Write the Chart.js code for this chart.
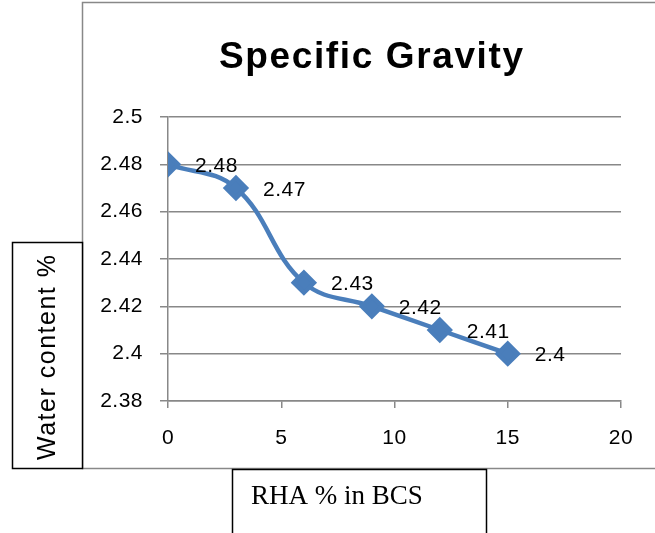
<!DOCTYPE html>
<html>
<head>
<meta charset="utf-8">
<script src="https://cdn.jsdelivr.net/npm/chart.js@4.4.1/dist/chart.umd.min.js"></script>
<style>
  html, body { margin: 0; padding: 0; background: #fff; }
  #wrap { position: relative; width: 655px; height: 533px; }
</style>
</head>
<body>
<div id="wrap"><canvas id="c" width="655" height="533"></canvas></div>
<script>
// data
const rhaPct = [0, 3, 6, 9, 12, 15];
const specGravity = [2.48, 2.47, 2.43, 2.42, 2.41, 2.4];
const chartTitle = 'Specific Gravity';
const yTitle = 'Water content %';
const xTitle = 'RHA % in BCS';

const LINE = '#4a7ebb';
const GRID = '#888888';
const SANS = '"Liberation Sans", Arial, sans-serif';
Chart.defaults.font.family = SANS;

// draw text stretched to a given width (excel-ish spacing)
function spacedText(ctx, txt, x, y, width) {
  ctx.letterSpacing = '0px';
  const w = ctx.measureText(txt).width;
  const sp = Math.max(0, (width - w) / (txt.length - 1));
  ctx.letterSpacing = sp + 'px';
  ctx.fillText(txt, x, y);
  ctx.letterSpacing = '0px';
}

const decor = {
  id: 'decor',
  beforeDraw(chart) {
    const ctx = chart.ctx;
    ctx.save();
    ctx.fillStyle = '#fff';
    ctx.fillRect(0, 0, chart.width, chart.height);
    ctx.strokeStyle = GRID;
    ctx.lineWidth = 1.5;
    ctx.strokeRect(82.5, 2.5, 600, 466);
    ctx.restore();
    ctx.letterSpacing = '0.5px';
  },
  afterDatasetsDraw(chart) {
    const ctx = chart.ctx;
    const pts = chart.getDatasetMeta(0).data;
    ctx.save();
    ctx.font = '21px ' + SANS;
    ctx.letterSpacing = '0.5px';
    ctx.fillStyle = '#000';
    ctx.textBaseline = 'middle';
    ctx.textAlign = 'left';
    pts.forEach((p, i) => {
      ctx.fillText(String(specGravity[i]), p.x + 27, p.y + 2);
    });
    ctx.restore();
  },
  afterDraw(chart) {
    const ctx = chart.ctx;
    ctx.save();
    ctx.font = 'bold 37px ' + SANS;
    ctx.fillStyle = '#000';
    ctx.textBaseline = 'alphabetic';
    ctx.textAlign = 'left';
    spacedText(ctx, chartTitle, 219, 68, 304);

    // y title box
    ctx.strokeStyle = '#000';
    ctx.lineWidth = 1.5;
    ctx.fillStyle = '#fff';
    ctx.fillRect(12, 242, 70, 226);
    ctx.strokeRect(12.5, 242.5, 70, 226);
    ctx.fillStyle = '#000';
    ctx.font = '25px ' + SANS;
    ctx.translate(48, 460);
    ctx.rotate(-Math.PI / 2);
    ctx.textBaseline = 'middle';
    spacedText(ctx, yTitle, 0, 0, 205);
    ctx.setTransform(1, 0, 0, 1, 0, 0);

    // x title box
    ctx.fillStyle = '#fff';
    ctx.fillRect(232, 469, 255, 70);
    ctx.strokeRect(232.5, 469.5, 254, 70);
    ctx.fillStyle = '#000';
    ctx.font = '27px "Liberation Serif", "Times New Roman", serif';
    ctx.textBaseline = 'middle';
    ctx.fillText(xTitle, 251, 497);
    ctx.restore();
  }
};

new Chart(document.getElementById('c'), {
  type: 'line',
  data: {
    datasets: [{
      data: rhaPct.map((x, i) => ({ x: x, y: specGravity[i] })),
      borderColor: LINE,
      backgroundColor: LINE,
      borderWidth: 4.5,
      tension: 0.4,
      pointStyle: 'rectRot',
      pointRadius: 10,
      pointHoverRadius: 10,
      pointBackgroundColor: LINE,
      pointBorderColor: LINE
    }]
  },
  options: {
    responsive: false,
    animation: false,
    devicePixelRatio: 1,
    layout: { padding: { left: 0, top: 117, right: 34, bottom: 0 } },
    plugins: { legend: { display: false }, tooltip: { enabled: false }, title: { display: false } },
    scales: {
      x: {
        type: 'linear', min: 0, max: 20,
        afterFit: s => { s.height = 132; },
        ticks: { stepSize: 5, color: '#000', padding: 18, font: { size: 21 } },
        grid: { drawOnChartArea: false, drawTicks: true, tickLength: 7, color: GRID, lineWidth: 1.5 },
        border: { color: GRID, width: 1.5 }
      },
      y: {
        min: 2.38, max: 2.5,
        afterFit: s => { s.width = 168; },
        ticks: {
          stepSize: 0.02, color: '#000', padding: 17,
          font: { size: 21 },
          callback: v => String(Number(v.toFixed(2)))
        },
        grid: { color: GRID, lineWidth: 1.5, tickLength: 8 },
        border: { color: GRID, width: 1.5 }
      }
    }
  },
  plugins: [decor]
});
</script>
</body>
</html>
